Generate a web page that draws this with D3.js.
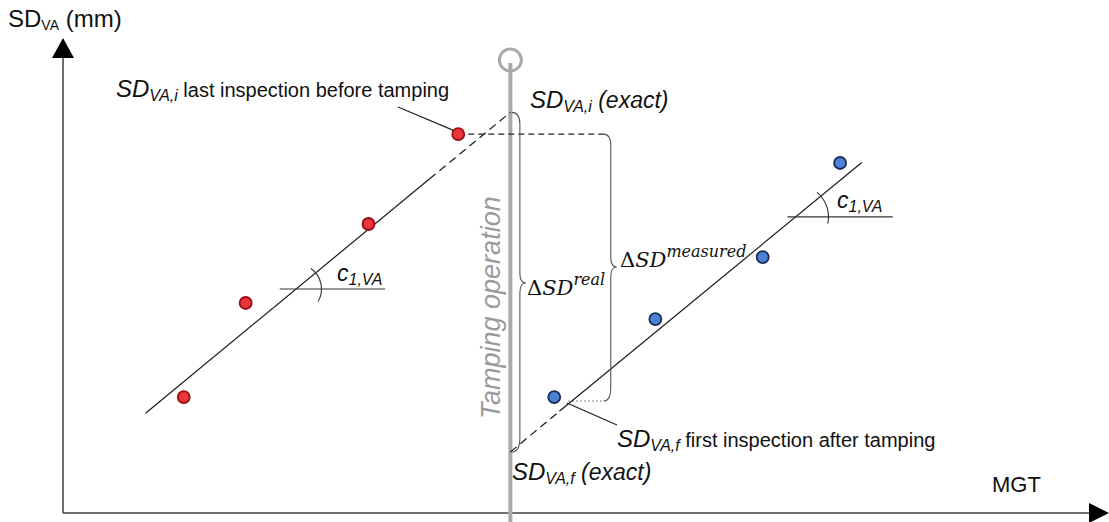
<!DOCTYPE html>
<html><head><meta charset="utf-8">
<script src="https://cdn.jsdelivr.net/npm/d3@7"></script>
<style>body{margin:0;background:#fff}svg{display:block}</style>
</head><body>
<svg id="c" width="1109" height="522"></svg>
<script>
// ---- data (arbitrary units: MGT 0..100, SD_VA 0..100) ----
const redX  = [11.7, 17.7, 29.6, 38.3];
const redY  = [24.5, 44.4, 61.1, 80.1];
const blueX = [47.6, 57.4, 67.8, 75.3];
const blueY = [24.5, 41.0, 54.1, 74.0];
const tampX = 43.35;
// trend line before tamping: start, end of solid part, end at tamping (dashed)
const beforeLineX = [8.0, 35.5, 43.35];
const beforeLineY = [21.1, 70.6, 84.7];
// trend line after tamping: start at tamping, end of dashed part, end
const afterLineX = [43.35, 48.1, 77.4];
const afterLineY = [12.9, 21.5, 74.1];
const measuredBraceX = 52.4;
const angleLevels = [{x0: 21.0, x1: 31.2, y: 47.36}, {x0: 70.2, x1: 80.4, y: 62.6}];

const svg = d3.select("#c");
const x = d3.scaleLinear().domain([0, 100]).range([63, 1095]);
const y = d3.scaleLinear().domain([0, 100]).range([513, 40]);
const axisCol = "#404040";
const sans = "'Liberation Sans', Arial, sans-serif";
const serif = "'DejaVu Serif', serif";

// ---- axes ----
svg.append("line").attr("x1", x(0)).attr("y1", y(0)).attr("x2", x(0)).attr("y2", 56)
  .attr("stroke", axisCol).attr("stroke-width", 1.5);
svg.append("path").attr("d", `M${x(0)},38 L${x(0)-11},58 L${x(0)+11},58 Z`).attr("fill", "#000");
svg.append("line").attr("x1", x(0)).attr("y1", y(0)).attr("x2", 1090).attr("y2", y(0))
  .attr("stroke", axisCol).attr("stroke-width", 1.5);
svg.append("path").attr("d", `M1109,${y(0)} L1089,${y(0)-10} L1089,${y(0)+10} Z`).attr("fill", "#000");

// axis titles
const yt = svg.append("text").attr("x", 8).attr("y", 27).attr("font-family", sans).attr("font-size", 24).attr("fill", "#111");
yt.append("tspan").text("SD");
yt.append("tspan").attr("font-size", 14).attr("dy", 3).text("VA");
yt.append("tspan").attr("dy", -3).text(" (mm)");
svg.append("text").attr("x", 992).attr("y", 492).attr("font-family", sans).attr("font-size", 22).attr("fill", "#111").text("MGT");

// ---- tamping line ----
svg.append("line").attr("x1", x(tampX)).attr("x2", x(tampX)).attr("y1", 63).attr("y2", 522)
  .attr("stroke", "#aaa").attr("stroke-width", 4);
svg.append("circle").attr("cx", x(tampX)).attr("cy", 60).attr("r", 11)
  .attr("fill", "none").attr("stroke", "#aaa").attr("stroke-width", 3);
svg.append("text").attr("transform", `translate(${x(tampX) - 10},419) rotate(-90)`)
  .attr("font-family", sans).attr("font-size", 27).attr("font-style", "italic").attr("fill", "#9a9a9a")
  .text("Tamping operation");

// ---- helper lines ----
svg.append("line").attr("x1", x(redX[3])).attr("y1", y(redY[3])).attr("x2", x(measuredBraceX)).attr("y2", y(redY[3]))
  .attr("stroke", "#222").attr("stroke-width", 1.2).attr("stroke-dasharray", "6,4");
svg.append("line").attr("x1", 568).attr("y1", 401).attr("x2", x(measuredBraceX) + 2).attr("y2", 401)
  .attr("stroke", "#888").attr("stroke-width", 1).attr("stroke-dasharray", "2,2");

// ---- trend lines ----
const ln = (xa, ya, xb, yb, dash) => svg.append("line").attr("x1", x(xa)).attr("y1", y(ya)).attr("x2", x(xb)).attr("y2", y(yb))
  .attr("stroke", "#1a1a1a").attr("stroke-width", 1.2).attr("stroke-dasharray", dash || null);
ln(beforeLineX[0], beforeLineY[0], beforeLineX[1], beforeLineY[1]);
ln(beforeLineX[1], beforeLineY[1], beforeLineX[2], beforeLineY[2], "8,5");
ln(afterLineX[0], afterLineY[0], afterLineX[1], afterLineY[1], "8,5");
ln(afterLineX[1], afterLineY[1], afterLineX[2], afterLineY[2]);

// ---- braces ----
function brace(bx, y1, y2, w, t, ym) {
  const p = `M${bx},${y1} Q${bx+w},${y1} ${bx+w},${y1+12} L${bx+w},${ym-10} Q${bx+w},${ym} ${bx+w+t},${ym}` +
    ` Q${bx+w},${ym} ${bx+w},${ym+10} L${bx+w},${y2-14} Q${bx+w},${y2} ${bx},${y2}`;
  svg.append("path").attr("d", p).attr("fill", "none").attr("stroke", "#555").attr("stroke-width", 1.1);
}
brace(x(tampX) + 1.5, y(beforeLineY[2]), y(afterLineY[0]), 8, 6, 283);
brace(x(measuredBraceX), y(redY[3]), 401, 7, 6, 267);

// ---- angle marks ----
angleLevels.forEach((a, i) => {
  svg.append("line").attr("x1", x(a.x0)).attr("x2", x(a.x1)).attr("y1", y(a.y)).attr("y2", y(a.y))
    .attr("stroke", "#333").attr("stroke-width", 1.1);
});
const arcPath = (cx, cy, r, a0, a1) => { const p = d3.path(); p.arc(cx, cy, r, a0, a1); return p.toString(); };
const deg = Math.PI / 180;
svg.append("path").attr("d", arcPath(296.5, y(angleLevels[0].y), 25, -55 * deg, 30 * deg))
  .attr("fill", "none").attr("stroke", "#333").attr("stroke-width", 1.1);
svg.append("path").attr("d", arcPath(796.5, y(angleLevels[1].y), 32, -50 * deg, 12 * deg))
  .attr("fill", "none").attr("stroke", "#333").attr("stroke-width", 1.1);
function cLabel(px, py) {
  const t = svg.append("text").attr("x", px).attr("y", py).attr("font-family", sans).attr("font-style", "italic").attr("font-size", 23).attr("fill", "#111");
  t.append("tspan").text("c");
  t.append("tspan").attr("font-size", 16).attr("dy", 4).text("1,VA");
}
cLabel(337, 281);
cLabel(837, 208);

// ---- leader lines ----
svg.append("line").attr("x1", 398).attr("y1", 107).attr("x2", x(redX[3]) - 3).attr("y2", y(redY[3]) - 3).attr("stroke", "#222").attr("stroke-width", 1.2);
svg.append("line").attr("x1", 567).attr("y1", 403).attr("x2", 617).attr("y2", 425).attr("stroke", "#222").attr("stroke-width", 1.2);

// ---- points ----
svg.selectAll(".red").data(redX.map((v, i) => [v, redY[i]])).join("circle").attr("class", "red")
  .attr("cx", d => x(d[0])).attr("cy", d => y(d[1])).attr("r", 6)
  .attr("fill", "#e8363b").attr("stroke", "#9a0e12").attr("stroke-width", 1.8);
svg.selectAll(".blue").data(blueX.map((v, i) => [v, blueY[i]])).join("circle").attr("class", "blue")
  .attr("cx", d => x(d[0])).attr("cy", d => y(d[1])).attr("r", 6)
  .attr("fill", "#4a82d6").attr("stroke", "#182c52").attr("stroke-width", 1.8);

// ---- SD labels ----
function sdLabel(px, py, sub, rest, restItalic, restSize) {
  const t = svg.append("text").attr("x", px).attr("y", py).attr("font-family", sans).attr("fill", "#111");
  t.append("tspan").attr("font-style", "italic").attr("font-size", 24).text("SD");
  t.append("tspan").attr("font-style", "italic").attr("font-size", 16).attr("dy", 4).text(sub);
  t.append("tspan").attr("font-style", restItalic ? "italic" : "normal").attr("font-size", restSize).attr("dy", -4).text(rest);
}
sdLabel(116, 97, "VA,i", " last inspection before tamping", false, 20);
sdLabel(530, 108, "VA,i", " (exact)", true, 23);
sdLabel(512, 480, "VA,f", " (exact)", true, 23);
sdLabel(617, 447, "VA,f", " first inspection after tamping", false, 20);

// ---- delta labels ----
function dLabel(px, py, sup) {
  const t = svg.append("text").attr("x", px).attr("y", py).attr("font-family", serif).attr("font-size", 21).attr("fill", "#111");
  t.append("tspan").text("Δ");
  t.append("tspan").attr("font-style", "italic").text("SD");
  t.append("tspan").attr("font-style", "italic").attr("font-size", 16).attr("dy", -10).text(sup);
}
dLabel(527, 295, "real");
dLabel(620, 267, "measured");
</script>
</body></html>
